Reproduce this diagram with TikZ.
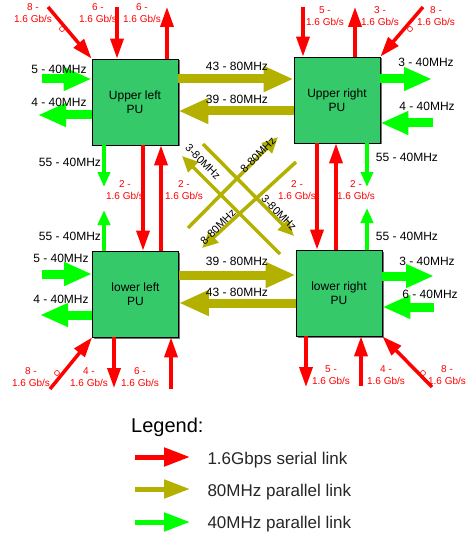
\documentclass[tikz,border=0pt]{standalone}
\usepackage{fontspec}
\setmainfont{Liberation Sans}
\usetikzlibrary{arrows.meta,shadows}
\definecolor{pufill}{HTML}{35C96A}
\definecolor{serial}{HTML}{FF0000}
\definecolor{par80}{HTML}{B3B000}
\definecolor{par40}{HTML}{00FF00}

\begin{document}
\begin{tikzpicture}[x=1pt,y=-1pt,
  pu/.style={draw,thick,fill=pufill,minimum width=86pt,minimum height=86pt,
    align=center,font=\fontsize{12}{14}\selectfont,
    drop shadow={shadow xshift=1.5pt,shadow yshift=-1.5pt,fill=black!55,opacity=1}},
  rd/.style={draw=serial,line width=3.5pt,-{Triangle[length=20pt,width=13pt]}},
  ol/.style={draw=par80,line width=9pt,-{Triangle[length=30pt,width=24pt]}},
  od/.style={draw=par80,line width=3.5pt,-{Triangle[length=16pt,width=14pt]}},
  gr/.style={draw=par40,line width=9pt,-{Triangle[length=28pt,width=22pt]}},
  gs/.style={draw=par40,line width=4pt,-{Triangle[length=15pt,width=12pt]}},
  kr/.style={line width=5pt,-{Triangle[length=26pt,width=18pt]}},
  ring/.style={circle,draw=serial,semithick,inner sep=0pt,minimum size=5pt},
  lb/.style={font=\fontsize{12}{14}\selectfont,inner sep=0pt},
  rl/.style={text=serial,align=center,font=\fontsize{10}{12.5}\selectfont,inner sep=0pt},
  dl/.style={font=\fontsize{11}{13}\selectfont,inner sep=0pt},
  kt/.style={anchor=west,font=\fontsize{17}{20}\selectfont,text=black!85}
]
\useasboundingbox (0,0) rectangle (468,540);

% processing units
\node[pu] (ul) at (135,102) {Upper left\\PU};
\node[pu] (ur) at (337,100) {Upper right\\PU};
\node[pu] (ll) at (135.5,294) {lower left\\PU};
\node[pu] (lr) at (339,293) {lower right\\PU};

% free ends of the links
\coordinate (ul-d) at (48,7);
\coordinate (ul-n1) at (117,7);
\coordinate (ul-n2) at (167,7);
\coordinate (ul-w1) at (42,79);
\coordinate (ul-w2) at (38,115);
\coordinate (ur-n1) at (303,7);
\coordinate (ur-n2) at (355,7);
\coordinate (ur-d) at (423,7);
\coordinate (ur-e1) at (432,79);
\coordinate (ur-e2) at (433,123);
\coordinate (ll-w1) at (42,274);
\coordinate (ll-w2) at (40,315);
\coordinate (ll-d) at (50,389);
\coordinate (ll-s1) at (114,388);
\coordinate (ll-s2) at (171,389);
\coordinate (lr-e1) at (434,276);
\coordinate (lr-e2) at (434,307);
\coordinate (lr-s1) at (306,387);
\coordinate (lr-s2) at (361,386);
\coordinate (lr-d) at (432,387);
\coordinate (top1) at (0,79);
\coordinate (top2) at (0,111);
\coordinate (bot1) at (0,275);
\coordinate (bot2) at (0,303);
\coordinate (vl1) at (143,0);
\coordinate (vl2) at (161,0);
\coordinate (vr1) at (317,0);
\coordinate (vr2) at (336,0);
\coordinate (gl1) at (104,187);
\coordinate (gl2) at (104,210);
\coordinate (gr1) at (367,187);
\coordinate (gr2) at (367,208);
\coordinate (xa1) at (280,254);
\coordinate (xa2) at (182,156);
\coordinate (xb1) at (203,144);
\coordinate (xb2) at (294,236);
\coordinate (xc1) at (188,228);
\coordinate (xc2) at (278,137);
\coordinate (xd1) at (296,162);
\coordinate (xd2) at (202,248);

% serial links
\draw[rd] (ul-d) -- (ul.north west);
\draw[rd] (ul-n1) -- (ul-n1 |- ul.north);
\draw[rd] (ul-n2 |- ul.north) -- (ul-n2);
\draw[rd] (ur-n1) -- (ur-n1 |- ur.north);
\draw[rd] (ur-n2 |- ur.north) -- (ur-n2);
\draw[rd] (ur-d) -- (ur.north east);
\draw[rd] (vl1 |- ul.south) -- (vl1 |- ll.north);
\draw[rd] (vl2 |- ll.north) -- (vl2 |- ul.south);
\draw[rd] (vr1 |- ur.south) -- (vr1 |- lr.north);
\draw[rd] (vr2 |- lr.north) -- (vr2 |- ur.south);
\draw[rd] (ll-d) -- (ll.south west);
\draw[rd] (ll-s1 |- ll.south) -- (ll-s1);
\draw[rd] (ll-s2) -- (ll-s2 |- ll.south);
\draw[rd] (lr-s1 |- lr.south) -- (lr-s1);
\draw[rd] (lr-s2) -- (lr-s2 |- lr.south);
\draw[rd] (lr-d) -- (lr.south east);
\node[ring] (o1) at (62,29) {};
\node[ring] (o2) at (410,29) {};
\node[ring] (o3) at (57,373) {};
\node[ring] (o4) at (423,373) {};

% 80MHz links
\draw[ol] (top1 -| ul.east) -- (top1 -| ur.west);
\draw[ol] (top2 -| ur.west) -- (top2 -| ul.east);
\draw[ol] (bot1 -| ll.east) -- (bot1 -| lr.west);
\draw[ol] (bot2 -| lr.west) -- (bot2 -| ll.east);
\draw[od] (xa1) -- (xa2);
\draw[od] (xb1) -- (xb2);
\draw[od] (xc1) -- (xc2);
\draw[od] (xd1) -- (xd2);

% 40MHz links
\draw[gr] (ul-w1) -- (ul-w1 -| ul.west);
\draw[gr] (ul-w2 -| ul.west) -- (ul-w2);
\draw[gr] (ur-e1 -| ur.east) -- (ur-e1);
\draw[gr] (ur-e2) -- (ur-e2 -| ur.east);
\draw[gr] (ll-w1) -- (ll-w1 -| ll.west);
\draw[gr] (ll-w2 -| ll.west) -- (ll-w2);
\draw[gr] (lr-e1 -| lr.east) -- (lr-e1);
\draw[gr] (lr-e2) -- (lr-e2 -| lr.east);
\draw[gs] (gl1 |- ul.south) -- (gl1);
\draw[gs] (gl2 |- ll.north) -- (gl2);
\draw[gs] (gr1 |- ur.south) -- (gr1);
\draw[gs] (gr2 |- lr.north) -- (gr2);

% labels
\node[rl] at (33,13) {8 -\\1.6 Gb/s};
\node[rl] at (98,13) {6 -\\1.6 Gb/s};
\node[rl] at (142,13) {6 -\\1.6 Gb/s};
\node[rl] at (325,16) {5 -\\1.6 Gb/s};
\node[rl] at (380,16) {3 -\\1.6 Gb/s};
\node[rl] at (436,16) {8 -\\1.6 Gb/s};
\node[rl] at (125,190) {2 -\\1.6 Gb/s};
\node[rl] at (184,190) {2 -\\1.6 Gb/s};
\node[rl] at (297,190) {2 -\\1.6 Gb/s};
\node[rl] at (356,190) {2 -\\1.6 Gb/s};
\node[rl] at (31,377) {8 -\\1.6 Gb/s};
\node[rl] at (89,377) {4 -\\1.6 Gb/s};
\node[rl] at (140,377) {6 -\\1.6 Gb/s};
\node[rl] at (331,375) {5 -\\1.6 Gb/s};
\node[rl] at (386,375) {4 -\\1.6 Gb/s};
\node[rl] at (447,375) {8 -\\1.6 Gb/s};

\node[lb] at (59,69) {5 - 40MHz};
\node[lb] at (59,102) {4 - 40MHz};
\node[lb] at (237,66) {43 - 80MHz};
\node[lb] at (237,99) {39 - 80MHz};
\node[lb] at (426,62) {3 - 40MHz};
\node[lb] at (427,106) {4 - 40MHz};
\node[lb] at (70,162) {55 - 40MHz};
\node[lb] at (70,236) {55 - 40MHz};
\node[lb] at (407,157) {55 - 40MHz};
\node[lb] at (407,236) {55 - 40MHz};
\node[lb] at (61,258) {5 - 40MHz};
\node[lb] at (61,299) {4 - 40MHz};
\node[lb] at (237,261) {39 - 80MHz};
\node[lb] at (237,292) {43 - 80MHz};
\node[lb] at (427,261) {3 - 40MHz};
\node[lb] at (430,294) {6 - 40MHz};

\node[dl,rotate=-45] at (203,162) {3-80MHz};
\node[dl,rotate=45] at (258,155) {8-80MHz};
\node[dl,rotate=-45] at (279,213) {3-80MHz};
\node[dl,rotate=45] at (218,227) {8-80MHz};

% legend
\node[anchor=west,font=\fontsize{20}{24}\selectfont,inner sep=0pt] (leg) at (131,427) {Legend:};
\coordinate (k1) at (135,457);
\coordinate (k1e) at (190,457);
\coordinate (k2) at (135,489);
\coordinate (k2e) at (190,489);
\coordinate (k3) at (135,522);
\coordinate (k3e) at (190,522);
\draw[kr,draw=serial] (k1) -- (k1e);
\draw[kr,draw=par80] (k2) -- (k2e);
\draw[kr,draw=par40] (k3) -- (k3e);
\node[kt] (t1) at (204,460) {1.6Gbps serial link};
\node[kt] (t2) at (204,492) {80MHz parallel link};
\node[kt] (t3) at (204,524) {40MHz parallel link};
\end{tikzpicture}
\end{document}
